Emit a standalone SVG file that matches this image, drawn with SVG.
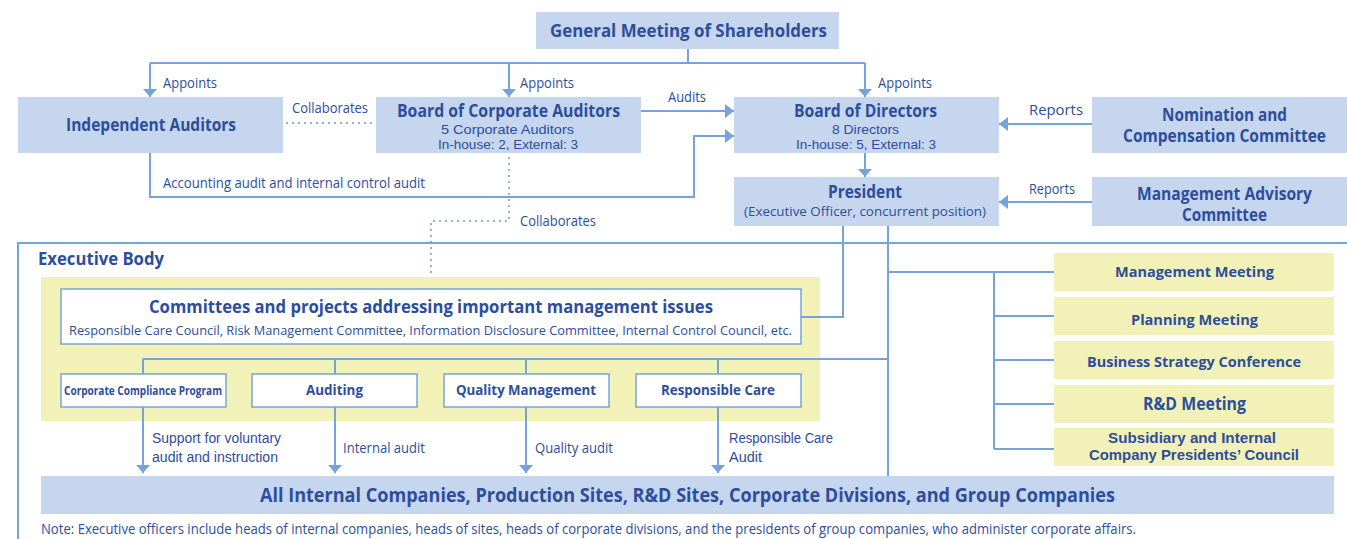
<svg xmlns="http://www.w3.org/2000/svg" width="1347" height="539" viewBox="0 0 1347 539">
<style>
text{font-family:"Open Sans","Noto Sans","Liberation Sans",sans-serif;fill:#2d4e9c;}
.b{font-weight:bold;}
.c{text-anchor:middle;}
.t{font-family:"Liberation Sans",Arial,sans-serif;}
.blue{fill:#c5d6ee;}
.yel{fill:#f2f2b8;}
.wb{fill:#ffffff;stroke:#78a4da;stroke-width:1.5;}
.ln{fill:none;stroke:#76a3da;stroke-width:2;}
.dot{fill:none;stroke:#76a3da;stroke-width:2.2;stroke-linecap:round;stroke-dasharray:0 6;}
</style>
<defs>
<marker id="ah" viewBox="0 0 9 14" refX="9" refY="7" markerWidth="9" markerHeight="14" markerUnits="userSpaceOnUse" orient="auto">
<path d="M0,0 L9,7 L0,14 z" fill="#76a3da"/>
</marker>
<marker id="ad" viewBox="0 0 8 14" refX="8" refY="7" markerWidth="8" markerHeight="14" markerUnits="userSpaceOnUse" orient="auto">
<path d="M0,0 L8,7 L0,14 z" fill="#76a3da"/>
</marker>
</defs>

<!-- Executive body frame -->
<g id="executive-body">
<path class="ln" d="M18,540 L18,243 L1348,243"/>
<text class="b" x="38" y="265" font-size="17" textLength="126" lengthAdjust="spacingAndGlyphs">Executive Body</text>
<rect class="yel" x="41" y="277" width="779" height="144"/>
</g>

<!-- Connectors -->
<g id="connectors">
<path class="ln" d="M688,49 V63 M150,63 H865"/>
<path class="ln" d="M150,63 V97" marker-end="url(#ad)"/>
<path class="ln" d="M509,63 V97" marker-end="url(#ad)"/>
<path class="ln" d="M865,63 V97" marker-end="url(#ad)"/>
<path class="dot" d="M287,123 H374"/>
<path class="ln" d="M641,111 H734" marker-end="url(#ah)"/>
<path class="ln" d="M150,153 V197 H694 V136 H734" marker-end="url(#ah)"/>
<path class="dot" d="M509,158 V221 H431 V273"/>
<path class="ln" d="M865,153 V177" marker-end="url(#ad)"/>
<path class="ln" d="M1092,124 H999" marker-end="url(#ah)"/>
<path class="ln" d="M1092,202 H999" marker-end="url(#ah)"/>
<path class="ln" d="M843,226 V317 H801"/>
<path class="ln" d="M888,226 V476"/>
<path class="ln" d="M143,359 H888 M143,359 V374 M335,359 V374 M526,359 V374 M718,359 V374"/>
<path class="ln" d="M888,272 H1054 M994,272 V449 M994,316 H1054 M994,360 H1054 M994,404 H1054 M994,449 H1054"/>
<path class="ln" d="M143,407 V473" marker-end="url(#ad)"/>
<path class="ln" d="M335,407 V473" marker-end="url(#ad)"/>
<path class="ln" d="M526,407 V473" marker-end="url(#ad)"/>
<path class="ln" d="M718,407 V473" marker-end="url(#ad)"/>
<g font-size="14">
<text x="163" y="88" textLength="54" lengthAdjust="spacingAndGlyphs">Appoints</text>
<text x="520" y="88" textLength="54" lengthAdjust="spacingAndGlyphs">Appoints</text>
<text x="878" y="88" textLength="54" lengthAdjust="spacingAndGlyphs">Appoints</text>
<text x="292" y="113" textLength="76" lengthAdjust="spacingAndGlyphs">Collaborates</text>
<text x="668" y="102" textLength="38" lengthAdjust="spacingAndGlyphs">Audits</text>
<text x="163" y="188" textLength="262" lengthAdjust="spacingAndGlyphs">Accounting audit and internal control audit</text>
<text x="520" y="226" textLength="76" lengthAdjust="spacingAndGlyphs">Collaborates</text>
<text x="1029" y="115" font-size="15" textLength="54" lengthAdjust="spacingAndGlyphs">Reports</text>
<text x="1029" y="194" textLength="46" lengthAdjust="spacingAndGlyphs">Reports</text>
</g>
<g font-size="14">
<text class="t" x="152" y="443" textLength="129" lengthAdjust="spacingAndGlyphs">Support for voluntary</text>
<text class="t" x="152" y="462" textLength="126" lengthAdjust="spacingAndGlyphs">audit and instruction</text>
<text x="343" y="453" textLength="82" lengthAdjust="spacingAndGlyphs">Internal audit</text>
<text x="535" y="453" textLength="78" lengthAdjust="spacingAndGlyphs">Quality audit</text>
<text class="t" x="729" y="443" textLength="104" lengthAdjust="spacingAndGlyphs">Responsible Care</text>
<text class="t" x="729" y="462" textLength="33" lengthAdjust="spacingAndGlyphs">Audit</text>
</g>
</g>

<g id="general-meeting">
<rect class="blue" x="536" y="12" width="303" height="37"/>
<text class="b" x="550" y="37" font-size="18" textLength="277" lengthAdjust="spacingAndGlyphs">General Meeting of Shareholders</text>
</g>
<g id="independent-auditors">
<rect class="blue" x="18" y="97" width="265" height="56"/>
<text class="b" x="66" y="131" font-size="18" textLength="170" lengthAdjust="spacingAndGlyphs">Independent Auditors</text>
</g>
<g id="board-corporate-auditors">
<rect class="blue" x="376" y="97" width="265" height="56"/>
<text class="b" x="397" y="117" font-size="17" textLength="223" lengthAdjust="spacingAndGlyphs">Board of Corporate Auditors</text>
<text class="t" x="441" y="134" font-size="13" textLength="133" lengthAdjust="spacingAndGlyphs">5 Corporate Auditors</text>
<text class="t" x="438" y="149" font-size="13" textLength="140" lengthAdjust="spacingAndGlyphs">In-house: 2, External: 3</text>
</g>
<g id="board-directors">
<rect class="blue" x="734" y="97" width="265" height="56"/>
<text class="b" x="794" y="117" font-size="17" textLength="143" lengthAdjust="spacingAndGlyphs">Board of Directors</text>
<text class="t" x="832" y="134" font-size="13" textLength="67" lengthAdjust="spacingAndGlyphs">8 Directors</text>
<text class="t" x="796" y="149" font-size="13" textLength="140" lengthAdjust="spacingAndGlyphs">In-house: 5, External: 3</text>
</g>
<g id="nomination-committee">
<rect class="blue" x="1092" y="97" width="255" height="56"/>
<text class="b" x="1162" y="121" font-size="17" textLength="125" lengthAdjust="spacingAndGlyphs">Nomination and</text>
<text class="b" x="1123" y="142" font-size="17" textLength="203" lengthAdjust="spacingAndGlyphs">Compensation Committee</text>
</g>
<g id="president">
<rect class="blue" x="734" y="177" width="265" height="49"/>
<text class="b" x="828" y="198" font-size="17" textLength="74" lengthAdjust="spacingAndGlyphs">President</text>
<text x="744" y="216" font-size="12.5" textLength="242" lengthAdjust="spacingAndGlyphs">(Executive Officer, concurrent position)</text>
</g>
<g id="management-advisory">
<rect class="blue" x="1092" y="177" width="255" height="49"/>
<text class="b" x="1137" y="200" font-size="17" textLength="175" lengthAdjust="spacingAndGlyphs">Management Advisory</text>
<text class="b" x="1182" y="221" font-size="17" textLength="85" lengthAdjust="spacingAndGlyphs">Committee</text>
</g>
<g id="committees">
<rect class="wb" x="61" y="289" width="740" height="55"/>
<text class="b" x="149" y="313" font-size="18" textLength="564" lengthAdjust="spacingAndGlyphs">Committees and projects addressing important management issues</text>
<text x="69" y="335" font-size="13" textLength="723" lengthAdjust="spacingAndGlyphs">Responsible Care Council, Risk Management Committee, Information Disclosure Committee, Internal Control Council, etc.</text>
</g>
<g id="compliance">
<rect class="wb" x="61" y="374" width="165" height="33"/>
<text class="b" x="64" y="395" font-size="13" textLength="158" lengthAdjust="spacingAndGlyphs">Corporate Compliance Program</text>
</g>
<g id="auditing">
<rect class="wb" x="252" y="374" width="165" height="33"/>
<text class="b" x="306" y="395" font-size="15" textLength="57" lengthAdjust="spacingAndGlyphs">Auditing</text>
</g>
<g id="quality">
<rect class="wb" x="444" y="374" width="165" height="33"/>
<text class="b" x="456" y="395" font-size="15" textLength="140" lengthAdjust="spacingAndGlyphs">Quality Management</text>
</g>
<g id="responsible-care">
<rect class="wb" x="636" y="374" width="165" height="33"/>
<text class="b" x="661" y="395" font-size="15" textLength="114" lengthAdjust="spacingAndGlyphs">Responsible Care</text>
</g>
<g id="management-meeting">
<rect class="yel" x="1054" y="253" width="280" height="38"/>
<text class="b" x="1115" y="277" font-size="15" textLength="159" lengthAdjust="spacingAndGlyphs">Management Meeting</text>
</g>
<g id="planning-meeting">
<rect class="yel" x="1054" y="297" width="280" height="38"/>
<text class="b" x="1131" y="325" font-size="15" textLength="127" lengthAdjust="spacingAndGlyphs">Planning Meeting</text>
</g>
<g id="business-strategy">
<rect class="yel" x="1054" y="341" width="280" height="38"/>
<text class="b" x="1087" y="367" font-size="15" textLength="214" lengthAdjust="spacingAndGlyphs">Business Strategy Conference</text>
</g>
<g id="rd-meeting">
<rect class="yel" x="1054" y="385" width="280" height="38"/>
<text class="b" x="1143" y="410" font-size="17" textLength="103" lengthAdjust="spacingAndGlyphs">R&amp;D Meeting</text>
</g>
<g id="presidents-council">
<rect class="yel" x="1054" y="428" width="280" height="38"/>
<text class="b t" x="1108" y="443" font-size="15" textLength="168" lengthAdjust="spacingAndGlyphs">Subsidiary and Internal</text>
<text class="b t" x="1089" y="460" font-size="15" textLength="210" lengthAdjust="spacingAndGlyphs">Company Presidents’ Council</text>
</g>
<g id="all-companies">
<rect class="blue" x="41" y="476" width="1293" height="38"/>
<text class="b" x="260" y="502" font-size="19" textLength="855" lengthAdjust="spacingAndGlyphs">All Internal Companies, Production Sites, R&amp;D Sites, Corporate Divisions, and Group Companies</text>
</g>
<g id="note">
<text x="41" y="534" font-size="14" textLength="1095" lengthAdjust="spacingAndGlyphs">Note: Executive officers include heads of internal companies, heads of sites, heads of corporate divisions, and the presidents of group companies, who administer corporate affairs.</text>
</g>
</svg>
